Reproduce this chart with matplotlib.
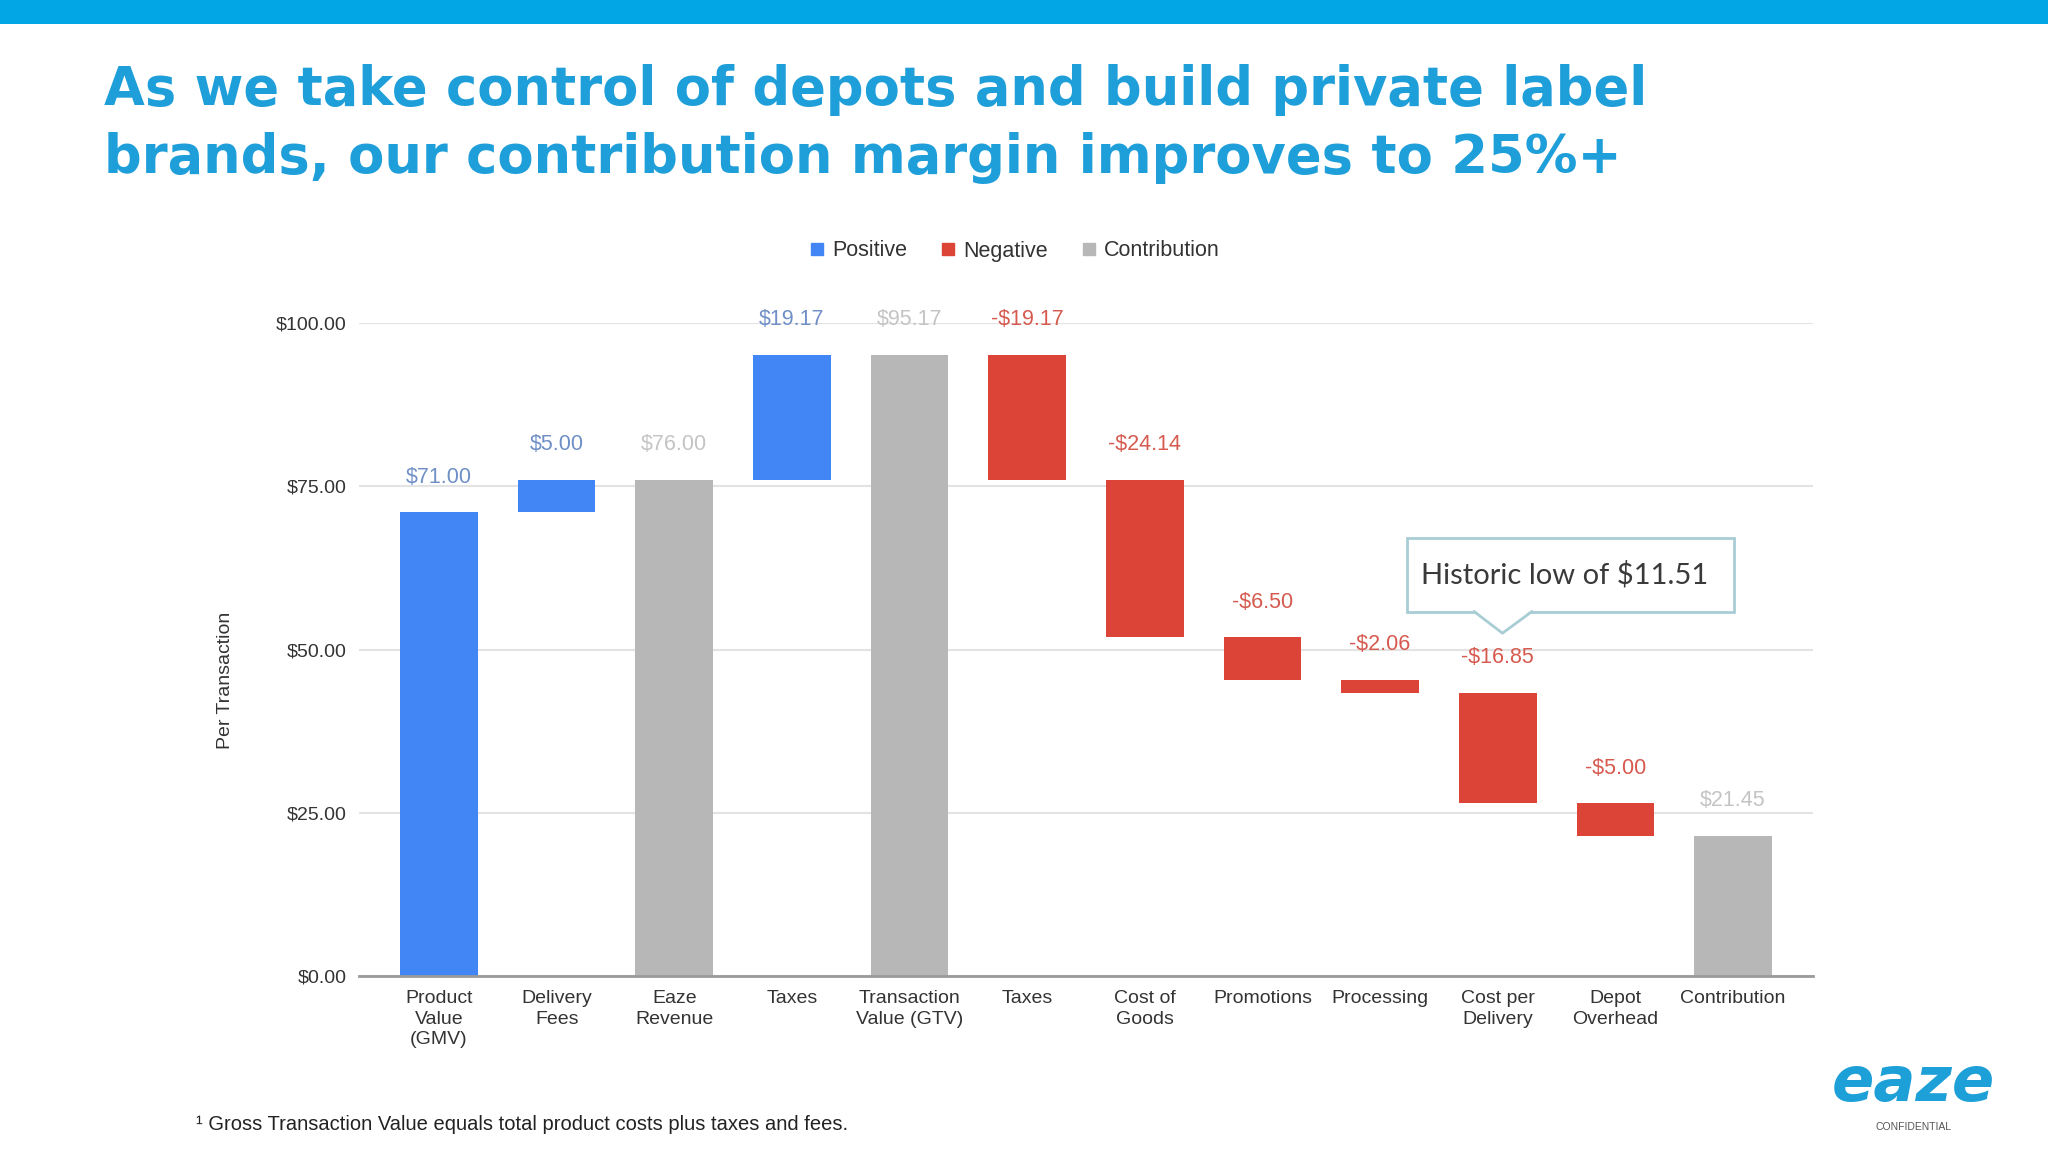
import numpy as np
import matplotlib.pyplot as plt
from matplotlib.patches import Rectangle, Polygon
from matplotlib.lines import Line2D

# waterfall data (per transaction)
categories = ['Product\nValue\n(GMV)', 'Delivery\nFees', 'Eaze\nRevenue', 'Taxes',
              'Transaction\nValue (GTV)', 'Taxes', 'Cost of\nGoods', 'Promotions',
              'Processing', 'Cost per\nDelivery', 'Depot\nOverhead', 'Contribution']
values = [71.00, 5.00, 76.00, 19.17, 95.17, -19.17, -24.14, -6.50, -2.06, -16.85, -5.00, 21.45]
kinds = ['pos', 'pos', 'total', 'pos', 'total', 'neg', 'neg', 'neg', 'neg', 'neg', 'neg', 'total']
yticks = [0, 25, 50, 75, 100]

bar_col = {'pos': '#4285F4', 'neg': '#DB4437', 'total': '#B7B7B7'}
lab_col = {'pos': '#6f8fc6', 'neg': '#d65a4f', 'total': '#c4c4c4'}

# running totals -> bottoms/heights
bottoms, heights, tops = [], [], []
run = 0.0
for v, k in zip(values, kinds):
    if k == 'total':
        b, h = 0.0, v
        run = v
    else:
        b = run if v >= 0 else run + v
        h = abs(v)
        run += v
    bottoms.append(b)
    heights.append(h)
    tops.append(b + h)

fig = plt.figure(figsize=(20.48, 11.52), dpi=100)
fig.patch.set_facecolor('white')

# top banner
fig.patches.append(Rectangle((0, 1 - 24 / 1152), 1, 24 / 1152, transform=fig.transFigure,
                             facecolor='#03a6e4', edgecolor='none'))

fig.text(104 / 2048, 1 - 173 / 1152,
         'As we take control of depots and build private label\nbrands, our contribution margin improves to 25%+',
         fontsize=38, fontweight='bold', color='#1f9fd9', family='DejaVu Sans',
         ha='left', va='baseline', linespacing=1.4)

ax = fig.add_axes([359 / 2048, 176 / 1152, 1454 / 2048, 653 / 1152])
x = np.arange(len(categories))
ax.bar(x, heights, bottom=bottoms, width=0.66, color=[bar_col[k] for k in kinds], zorder=3)

for xi, v, k, t in zip(x, values, kinds, tops):
    txt = ('-$%.2f' % abs(v)) if v < 0 else ('$%.2f' % v)
    ax.text(xi, t + 5.4, txt, ha='center', va='center', fontsize=15.5,
            color=lab_col[k], family='Liberation Sans', clip_on=False)

ax.set_xlim(-0.68, 11.68)
ax.set_ylim(0, 100)
ax.set_yticks(yticks)
ax.set_yticklabels(['$%.2f' % t for t in yticks], family='Liberation Sans', fontsize=14, color='#333333')
ax.set_xticks(x)
ax.set_xticklabels(categories, family='Liberation Sans', fontsize=14, color='#333333', linespacing=1.28)
ax.tick_params(axis='both', length=0)
ax.tick_params(axis='y', pad=9)
ax.tick_params(axis='x', pad=10)
ax.grid(axis='y', color='#e3e3e3', lw=1.5, zorder=0)
for s in ['top', 'right', 'left']:
    ax.spines[s].set_visible(False)
ax.spines['bottom'].set_color('#9a9a9a')
ax.spines['bottom'].set_linewidth(2)
ax.spines['bottom'].set_zorder(4)

fig.text(226 / 2048, 1 - 680 / 1152, 'Per Transaction', rotation=90, ha='center', va='center',
         fontsize=14, color='#333333', family='Liberation Sans')

# legend
handles = [Line2D([], [], marker='s', ls='none', markersize=8.5, color=bar_col[k]) for k in ['pos', 'neg', 'total']]
fig.legend(handles, ['Positive', 'Negative', 'Contribution'], loc='center', ncol=3,
           bbox_to_anchor=(1012 / 2048, 1 - 251 / 1152), frameon=False, handletextpad=0.1,
           columnspacing=1.3, handlelength=1.2, prop={'family': 'Liberation Sans', 'size': 15.5},
           labelcolor='#333333')

# callout box
box_x0, box_x1, box_y0, box_y1 = 8.23, 11.01, 55.8, 67.1
tail_l, tail_tip, tail_r, tail_y = 8.80, 9.04, 9.29, 52.5
edge = '#a9cdd5'
ax.add_patch(Rectangle((box_x0, box_y0), box_x1 - box_x0, box_y1 - box_y0, facecolor='white',
                       edgecolor=edge, lw=2, zorder=5, clip_on=False))
ax.add_patch(Polygon([(tail_l, box_y0 + 0.3), (tail_tip, tail_y), (tail_r, box_y0 + 0.3)], closed=True,
                     facecolor='white', edgecolor='none', zorder=6, clip_on=False))
ax.plot([tail_l, tail_tip, tail_r], [box_y0, tail_y, box_y0], color=edge, lw=2, zorder=6, clip_on=False)
ax.text((box_x0 + box_x1) / 2 - 0.05, (box_y0 + box_y1) / 2, 'Historic low of $11.51', ha='center',
        va='center', fontsize=21, color='#3a3a3a', family='Lato', zorder=7)

# footnote and logo
fig.text(196 / 2048, 1 - 1124 / 1152, '¹ Gross Transaction Value equals total product costs plus taxes and fees.',
         fontsize=14.5, color='#222222', family='Liberation Sans', ha='left', va='center')
fig.text(1913 / 2048, 1 - 1084 / 1152, 'eaze', fontsize=45, fontweight='bold', fontstyle='italic',
         color='#1d9fd8', family='DejaVu Sans', ha='center', va='center')
fig.text(1913 / 2048, 1 - 1127 / 1152, 'CONFIDENTIAL', fontsize=7.5, color='#555555',
         family='Liberation Sans', ha='center', va='center')

fig.savefig('out.png', dpi=100)
